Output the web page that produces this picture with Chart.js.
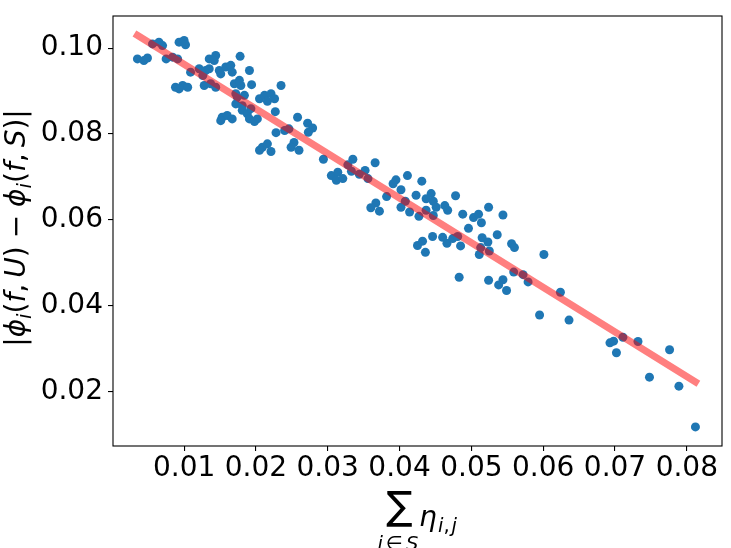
<!DOCTYPE html>
<html>
<head>
<meta charset="utf-8">
<script src="https://cdn.jsdelivr.net/npm/chart.js@4.4.1/dist/chart.umd.min.js"></script>
<style>
  html, body { margin: 0; padding: 0; background: #fff; }
  #wrap { width: 731px; height: 548px; }
</style>
</head>
<body>
<div id="wrap"><canvas id="chart" width="731" height="548"></canvas></div>
<script>
// scatter values
const xValues = [
  0.0035, 0.0044, 0.0049, 0.0056, 0.0065, 0.0070, 0.0093, 0.0100, 0.0102, 0.0075,
  0.0084, 0.0091, 0.0135, 0.0144, 0.0142, 0.0178, 0.0191, 0.0109, 0.0121, 0.0130,
  0.0135, 0.0149, 0.0158, 0.0165, 0.0167, 0.0151, 0.0126, 0.0088, 0.0098, 0.0105,
  0.0093, 0.0128, 0.0137, 0.0144, 0.0170, 0.0179, 0.0177, 0.0194, 0.0172, 0.0174,
  0.0184, 0.0172, 0.0181, 0.0181, 0.0188, 0.0193, 0.0202, 0.0205, 0.0212, 0.0221,
  0.0216, 0.0226, 0.0227, 0.0235, 0.0153, 0.0160, 0.0167, 0.0151, 0.0191, 0.0198,
  0.0228, 0.0240, 0.0209, 0.0216, 0.0221, 0.0205, 0.0258, 0.0272, 0.0279, 0.0273,
  0.0246, 0.0253, 0.0249, 0.0260, 0.0294, 0.0335, 0.0328, 0.0366, 0.0352, 0.0344,
  0.0356, 0.0305, 0.0314, 0.0312, 0.0321, 0.0333, 0.0411, 0.0395, 0.0391, 0.0402,
  0.0431, 0.0382, 0.0367, 0.0360, 0.0372, 0.0408, 0.0423, 0.0444, 0.0437, 0.0447,
  0.0478, 0.0402, 0.0414, 0.0427, 0.0437, 0.0447, 0.0463, 0.0467, 0.0451, 0.0425,
  0.0432, 0.0436, 0.0446, 0.0460, 0.0466, 0.0474, 0.0488, 0.0524, 0.0544, 0.0503,
  0.0510, 0.0514, 0.0496, 0.0536, 0.0481, 0.0485, 0.0515, 0.0523, 0.0513, 0.0525,
  0.0511, 0.0556, 0.0560, 0.0601, 0.0483, 0.0524, 0.0559, 0.0572, 0.0579, 0.0544,
  0.0538, 0.0549, 0.0624, 0.0595, 0.0636, 0.0693, 0.0698, 0.0702, 0.0711, 0.0732,
  0.0776, 0.0748, 0.0789, 0.0812
];
const yValues = [
  0.0975, 0.0971, 0.0977, 0.1010, 0.1014, 0.1006, 0.1014, 0.1018, 0.1008, 0.0975,
  0.0979, 0.0975, 0.0975, 0.0983, 0.0971, 0.0981, 0.0948, 0.0944, 0.0952, 0.0948,
  0.0952, 0.0948, 0.0956, 0.0960, 0.0944, 0.0940, 0.0936, 0.0909, 0.0913, 0.0909,
  0.0905, 0.0913, 0.0917, 0.0909, 0.0917, 0.0913, 0.0925, 0.0915, 0.0894, 0.0886,
  0.0890, 0.0870, 0.0866, 0.0855, 0.0847, 0.0859, 0.0835, 0.0882, 0.0890, 0.0894,
  0.0876, 0.0882, 0.0852, 0.0913, 0.0839, 0.0843, 0.0835, 0.0831, 0.0835, 0.0829,
  0.0803, 0.0808, 0.0769, 0.0777, 0.0759, 0.0762, 0.0839, 0.0825, 0.0814, 0.0804,
  0.0812, 0.0780, 0.0769, 0.0762, 0.0741, 0.0741, 0.0728, 0.0733, 0.0715, 0.0706,
  0.0696, 0.0703, 0.0711, 0.0692, 0.0696, 0.0713, 0.0703, 0.0693, 0.0684, 0.0670,
  0.0690, 0.0654, 0.0639, 0.0628, 0.0620, 0.0643, 0.0657, 0.0661, 0.0649, 0.0643,
  0.0656, 0.0629, 0.0618, 0.0608, 0.0622, 0.0610, 0.0633, 0.0622, 0.0629, 0.0540,
  0.0550, 0.0524, 0.0561, 0.0559, 0.0545, 0.0556, 0.0613, 0.0629, 0.0611, 0.0605,
  0.0613, 0.0593, 0.0580, 0.0565, 0.0561, 0.0539, 0.0558, 0.0548, 0.0535, 0.0527,
  0.0519, 0.0544, 0.0535, 0.0519, 0.0466, 0.0459, 0.0478, 0.0472, 0.0455, 0.0460,
  0.0448, 0.0435, 0.0431, 0.0378, 0.0366, 0.0313, 0.0317, 0.0290, 0.0326, 0.0316,
  0.0297, 0.0233, 0.0212, 0.0117
];

// fitted line (two end points)
const fitX = [0.0035, 0.0812];
const fitY = [0.1030, 0.0222];

const xTicks = [0.01, 0.02, 0.03, 0.04, 0.05, 0.06, 0.07, 0.08];
const yTicks = [0.02, 0.04, 0.06, 0.08, 0.10];
const xRange = [0.0001, 0.0849];
const yRange = [0.00725, 0.1075];

const FONT = '"DejaVu Sans"';
const S = 28, s = 19.5;

// draws a run of text pieces (normal / italic / shifted) left to right
function runWidth(ctx, parts) {
  let w = 0;
  for (const p of parts) {
    if (p.gap) { w += p.gap; continue; }
    ctx.font = (p.it ? 'italic ' : '') + (p.size || S) + 'px ' + FONT;
    w += ctx.measureText(p.t).width;
  }
  return w;
}
function drawRun(ctx, parts, x, y) {
  let cx = x;
  for (const p of parts) {
    if (p.gap) { cx += p.gap; continue; }
    ctx.font = (p.it ? 'italic ' : '') + (p.size || S) + 'px ' + FONT;
    ctx.fillText(p.t, cx, y + (p.dy || 0));
    cx += ctx.measureText(p.t).width;
  }
}

const yTitle = [
  {t: '|'}, {t: 'ϕ', it: true}, {t: 'i', it: true, size: s, dy: 6},
  {t: '('}, {t: 'f', it: true}, {t: ','}, {gap: 6}, {t: 'U', it: true}, {t: ')'},
  {gap: 8}, {t: '−'}, {gap: 8},
  {t: 'ϕ', it: true}, {t: 'i', it: true, size: s, dy: 6},
  {t: '('}, {t: 'f', it: true}, {t: ','}, {gap: 6}, {t: 'S', it: true}, {t: ')'}, {t: '|'}
];
const etaPart = [{t: 'η', it: true}];
const etaSub = [{t: 'i', it: true, size: s}, {t: ',', size: s}, {gap: 2}, {t: 'j', it: true, size: s}];
const sumSub = [{t: 'i', it: true, size: s}, {gap: 3}, {t: '∈', size: s}, {gap: 3}, {t: 'S', it: true, size: s}];

const framePlugin = {
  id: 'frame',
  afterDraw(chart) {
    const {ctx, chartArea: a} = chart;
    ctx.save();
    ctx.strokeStyle = '#000';
    ctx.lineWidth = 1.1;
    ctx.strokeRect(a.left, a.top, a.right - a.left, a.bottom - a.top);

    ctx.fillStyle = '#000';
    ctx.textAlign = 'left';
    ctx.textBaseline = 'alphabetic';

    // y axis title, rotated
    ctx.save();
    ctx.translate(25, 228);
    ctx.rotate(-Math.PI / 2);
    const w = runWidth(ctx, yTitle);
    drawRun(ctx, yTitle, -w / 2, 0);
    ctx.restore();

    // x axis title: big sum with limits, then eta_{i,j}
    ctx.font = '100px ' + FONT;
    let m = ctx.measureText('∑');
    const fs = 100 * 36 / (m.actualBoundingBoxAscent + m.actualBoundingBoxDescent);
    ctx.font = fs + 'px ' + FONT;
    m = ctx.measureText('∑');
    ctx.fillText('∑', 386 + m.actualBoundingBoxLeft, 490 + m.actualBoundingBoxAscent);
    drawRun(ctx, etaPart, 419, 526);
    drawRun(ctx, etaSub, 438, 532);
    const sw = runWidth(ctx, sumSub);
    drawRun(ctx, sumSub, 398 - sw / 2, 549.5);
    ctx.restore();
  }
};

const scatterData = xValues.map((x, i) => ({x: x, y: yValues[i]}));
const fitData = fitX.map((x, i) => ({x: x, y: fitY[i]}));

const tickFont = {family: FONT, size: S};

new Chart(document.getElementById('chart'), {
  type: 'scatter',
  data: {
    datasets: [
      {
        type: 'line',
        data: fitData,
        borderColor: 'rgba(255, 0, 0, 0.5)',
        borderWidth: 7,
        borderCapStyle: 'square',
        pointRadius: 0,
        fill: false,
        order: 0
      },
      {
        data: scatterData,
        backgroundColor: '#1f77b4',
        borderWidth: 0,
        pointRadius: 4.5,
        order: 1
      }
    ]
  },
  options: {
    responsive: false,
    devicePixelRatio: 1,
    animation: false,
    events: [],
    layout: {padding: {top: 16, right: 9, left: 0, bottom: 0}},
    plugins: {legend: {display: false}, tooltip: {enabled: false}},
    scales: {
      x: {
        type: 'linear',
        position: 'bottom',
        min: xRange[0],
        max: xRange[1],
        afterBuildTicks: sc => { sc.ticks = xTicks.map(v => ({value: v})); },
        afterFit: sc => { sc.height = 102; sc.paddingLeft = 0; sc.paddingRight = 0; },
        grid: {display: true, drawOnChartArea: false, drawTicks: true, tickLength: 5, color: '#000', lineWidth: 1.1},
        border: {display: false},
        ticks: {font: tickFont, color: '#000', padding: 1, maxRotation: 0, autoSkip: false,
                callback: v => v.toFixed(2)}
      },
      y: {
        type: 'linear',
        min: yRange[0],
        max: yRange[1],
        afterBuildTicks: sc => { sc.ticks = yTicks.map(v => ({value: v})); },
        afterFit: sc => { sc.width = 113; sc.paddingTop = 0; sc.paddingBottom = 0; },
        grid: {display: true, drawOnChartArea: false, drawTicks: true, tickLength: 5, color: '#000', lineWidth: 1.1},
        border: {display: false},
        ticks: {font: tickFont, color: '#000', padding: 5, autoSkip: false,
                callback: v => v.toFixed(2)}
      }
    }
  },
  plugins: [framePlugin]
});
</script>
</body>
</html>
